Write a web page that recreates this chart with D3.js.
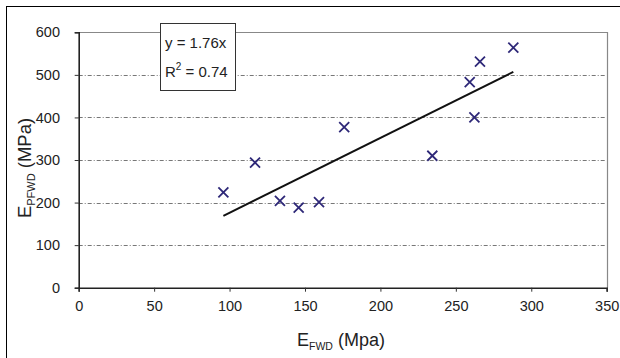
<!DOCTYPE html>
<html>
<head>
<meta charset="utf-8">
<script src="https://cdn.jsdelivr.net/npm/d3@7/dist/d3.min.js"></script>
<style>
  html, body { margin: 0; padding: 0; background: #fff; }
  svg { display: block; font-family: "Liberation Sans", Arial, sans-serif; }
</style>
</head>
<body>
<svg id="chart" width="620" height="358"></svg>
<script>
// Measured moduli: falling weight deflectometer vs portable FWD
const eFWD  = [95.9, 116.9, 133.4, 145.8, 159.3, 176.0, 234.4, 259.2, 262.3, 266.0, 288.1];
const ePFWD = [224, 294, 204, 188, 201, 377, 310, 483, 400, 531, 564];

// Linear fit through the origin
const slope = 1.76;
const rSquared = 0.74;

const xTicks = [0, 50, 100, 150, 200, 250, 300, 350];
const yTicks = [0, 100, 200, 300, 400, 500, 600];

const svg = d3.select("#chart");
const plot = { left: 78.7, right: 606.7, top: 32.3, bottom: 287.7 };

const x = d3.scaleLinear().domain([0, 350]).range([plot.left, plot.right]);
const y = d3.scaleLinear().domain([0, 600]).range([plot.bottom, plot.top]);

// Chart area frame
svg.append("rect")
  .attr("x", 6.5).attr("y", 6.5)
  .attr("width", 640).attr("height", 380)
  .attr("fill", "#fff").attr("stroke", "#000").attr("stroke-width", 1);

// Horizontal gridlines (dash-dot)
svg.append("g")
  .selectAll("line")
  .data(yTicks.filter(v => v > 0 && v < 600))
  .join("line")
  .attr("x1", plot.left).attr("x2", plot.right)
  .attr("y1", d => Math.round(y(d)) + 0.5).attr("y2", d => Math.round(y(d)) + 0.5)
  .attr("stroke", "#777").attr("stroke-width", 1)
  .attr("stroke-dasharray", "4,2,1,2");

// Plot area border on top and right
svg.append("path")
  .attr("d", `M${plot.left},${Math.round(plot.top) + 0.5}H${Math.round(plot.right) + 0.5}V${plot.bottom}`)
  .attr("fill", "none").attr("stroke", "#888").attr("stroke-width", 1.2);

// Axes
const xAxis = d3.axisBottom(x).tickValues(xTicks).tickSize(4).tickPadding(6);
const yAxis = d3.axisLeft(y).tickValues(yTicks).tickSize(4).tickPadding(6);

const gx = svg.append("g").attr("transform", `translate(0,${plot.bottom})`).call(xAxis);
const gy = svg.append("g").attr("transform", `translate(${plot.left},0)`).call(yAxis);

[gx, gy].forEach(g => {
  g.select(".domain").attr("stroke", "#222").attr("stroke-width", 1.6);
  g.selectAll(".tick line").attr("stroke", "#333");
  g.selectAll(".tick text")
    .attr("font-size", 14.5).attr("fill", "#222")
    .attr("font-family", "'Liberation Sans', Arial, sans-serif");
});
gy.selectAll(".tick text").attr("dx", "-0.6em");
gx.selectAll(".tick text").attr("dy", "0.9em");

// Trendline over the data range
const xmin = d3.min(eFWD), xmax = d3.max(eFWD);
svg.append("line")
  .attr("x1", x(xmin)).attr("y1", y(slope * xmin))
  .attr("x2", x(xmax)).attr("y2", y(slope * xmax))
  .attr("stroke", "#111").attr("stroke-width", 2);

// Data markers (crosses)
const s = 5;
svg.append("g")
  .selectAll("path")
  .data(eFWD.map((v, i) => [v, ePFWD[i]]))
  .join("path")
  .attr("d", d => {
    const cx = x(d[0]), cy = y(d[1]);
    return `M${cx - s},${cy - s}L${cx + s},${cy + s}M${cx - s},${cy + s}L${cx + s},${cy - s}`;
  })
  .attr("stroke", "#2e2878").attr("stroke-width", 1.8).attr("fill", "none");

// Equation label
const box = svg.append("g");
box.append("rect")
  .attr("x", 160.5).attr("y", 23.5).attr("width", 75).attr("height", 67)
  .attr("fill", "#fff").attr("stroke", "#333").attr("stroke-width", 1);
box.append("text")
  .attr("x", 165).attr("y", 48).attr("font-size", 15).attr("fill", "#222")
  .text(`y = ${slope}x`);
const r2 = box.append("text")
  .attr("x", 165).attr("y", 77).attr("font-size", 15).attr("fill", "#222");
r2.append("tspan").text("R");
r2.append("tspan").attr("font-size", 10).attr("dy", -7).text("2");
r2.append("tspan").attr("dy", 7).text(` = ${rSquared}`);

// X axis title
const xt = svg.append("text")
  .attr("x", 341).attr("y", 346).attr("text-anchor", "middle")
  .attr("font-size", 18).attr("fill", "#222");
xt.append("tspan").text("E");
xt.append("tspan").attr("font-size", 10.5).attr("dy", 4).text("FWD");
xt.append("tspan").attr("dy", -4).text(" (Mpa)");

// Y axis title
const yt = svg.append("text")
  .attr("transform", "translate(31,168) rotate(-90)")
  .attr("text-anchor", "middle").attr("font-size", 18.5).attr("fill", "#222");
yt.append("tspan").text("E");
yt.append("tspan").attr("font-size", 11).attr("dy", 4).text("PFWD");
yt.append("tspan").attr("dy", -4).text(" (MPa)");
</script>
</body>
</html>
